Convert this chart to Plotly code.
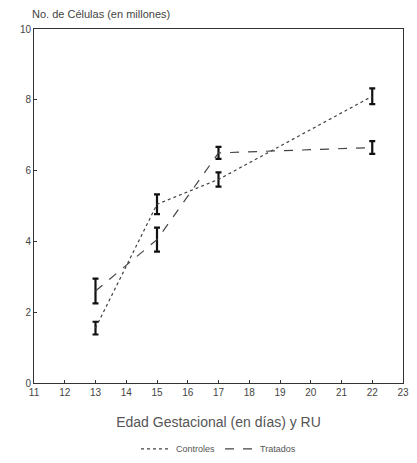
import plotly.graph_objects as go

dias = [13, 15, 17, 22]
controles = [1.55, 5.05, 5.75, 8.1]
controles_err = [0.18, 0.28, 0.2, 0.22]
tratados = [2.6, 4.05, 6.5, 6.65]
tratados_err = [0.35, 0.34, 0.17, 0.18]
x_ticks = list(range(11, 24))
y_ticks = [0, 2, 4, 6, 8, 10]

fig = go.Figure()
fig.add_trace(go.Scatter(
    x=dias, y=controles, mode="lines", name="Controles",
    line=dict(color="#444", width=1.2, dash="dot"),
    error_y=dict(type="data", array=controles_err, color="#111", thickness=2.2, width=3),
))
fig.add_trace(go.Scatter(
    x=dias, y=tratados, mode="lines", name="Tratados",
    line=dict(color="#444", width=1.2, dash="dash"),
    error_y=dict(type="data", array=tratados_err, color="#111", thickness=2.2, width=3),
))

axis_font = dict(family="Liberation Sans, Arial", size=10, color="#444")
fig.update_layout(
    width=417, height=463,
    margin=dict(l=34, r=14, t=29, b=80, autoexpand=False),
    paper_bgcolor="white", plot_bgcolor="white",
    showlegend=True,
    legend=dict(orientation="h", x=0.5, xanchor="center", y=-0.186, yanchor="middle",
                font=dict(family="Liberation Sans, Arial", size=9, color="#555"),
                itemwidth=30, bgcolor="rgba(0,0,0,0)"),
    xaxis=dict(range=[11, 23], tickvals=x_ticks, ticktext=[str(v) for v in x_ticks],
               automargin=False,
               showgrid=False, zeroline=False, showline=True, linecolor="#333", linewidth=1,
               mirror=True, ticks="inside", ticklen=3, tickcolor="#333",
               tickfont=axis_font,
               title=dict(text="Edad Gestacional (en días) y RU",
                          font=dict(family="Liberation Sans, Arial", size=14, color="#555"),
                          standoff=20)),
    yaxis=dict(range=[0, 10], tickvals=y_ticks, showgrid=False, zeroline=False,
               automargin=False,
               showline=True, linecolor="#333", linewidth=1, mirror=True,
               ticks="inside", ticklen=3, tickcolor="#333", tickfont=axis_font),
    annotations=[dict(text="No. de Células (en millones)", xref="paper", yref="paper",
                      x=-0.01, y=1.02, xanchor="left", yanchor="bottom", showarrow=False,
                      font=dict(family="Liberation Sans, Arial", size=11, color="#444"))],
)

fig.write_html("out.html")
